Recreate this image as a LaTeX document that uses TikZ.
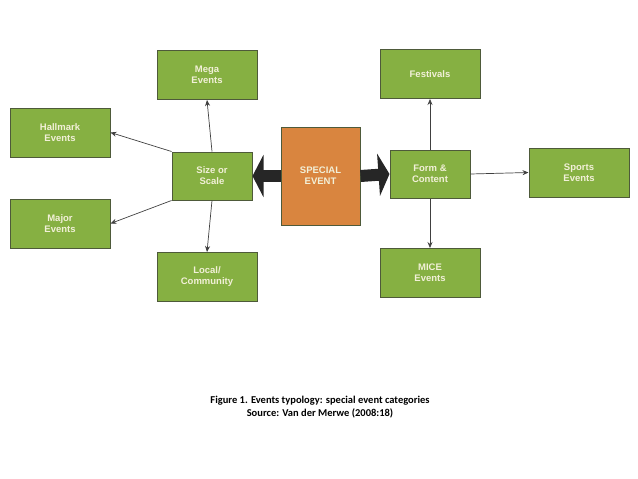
\documentclass[tikz,border=0pt]{standalone}
\usepackage{fontspec}
\setmainfont{Liberation Sans}
\newfontfamily\capfont{Carlito}
\usetikzlibrary{arrows.meta}
\definecolor{gfill}{HTML}{86B042}
\definecolor{gline}{HTML}{4E5A3A}
\definecolor{ofill}{HTML}{D9853F}
\definecolor{txt}{HTML}{F2F0D8}
\begin{document}
\begin{tikzpicture}[x=1pt,y=-1pt,
 gbox/.style={draw=gline,line width=1pt,fill=gfill,text=txt,font=\bfseries\fontsize{9.5}{11}\selectfont,align=center,inner sep=0pt},
 big/.style={gbox,minimum width=100pt,minimum height=49pt},
 mid/.style={gbox,minimum width=80pt,minimum height=48pt},
 con/.style={draw=black!75,line width=0.7pt,-{Stealth[length=6pt,width=5pt]}},
 fat/.style={line width=12pt,black!85,-{Triangle[length=11pt,width=42pt]}}]
\useasboundingbox (0,0) rectangle (638,479);
\node[big] (mega) at (207,75) {Mega\\Events};
\node[big] (hall) at (60,132.5) {Hallmark\\Events};
\node[mid] (size) at (212,176) {Size or\\Scale};
\node[big] (major) at (60,223.5) {Major\\Events};
\node[big] (local) at (207,277) {Local/\\Community};
\node[gbox,draw=gline,fill=ofill,minimum width=79pt,minimum height=98pt] (sp) at (320.5,176) {SPECIAL\\EVENT};
\node[big] (fest) at (430,74) {Festivals};
\node[mid] (form) at (430,174) {Form \&\\Content};
\node[big] (sport) at (579,172.5) {Sports\\Events};
\node[big] (mice) at (430,273) {MICE\\Events};
\draw[con] (size.north) -- (mega.south);
\draw[con] (size.south) -- (local.north);
\draw[con] (size.north west) -- (hall.east);
\draw[con] (size.south west) -- (major.east);
\draw[con] (form.north) -- (fest.south);
\draw[con] (form.south) -- (mice.north);
\draw[con] (form.east) -- (sport.west);
\draw[fat] (sp.west) -- (size.east);
\draw[fat] (sp.east) -- (form.west);
\node[font=\capfont\bfseries\fontsize{10.5}{13}\selectfont,align=center] (cap) at (320,407) {Figure 1. Events typology: special event categories\\Source: Van der Merwe (2008:18)};
\end{tikzpicture}
\end{document}
